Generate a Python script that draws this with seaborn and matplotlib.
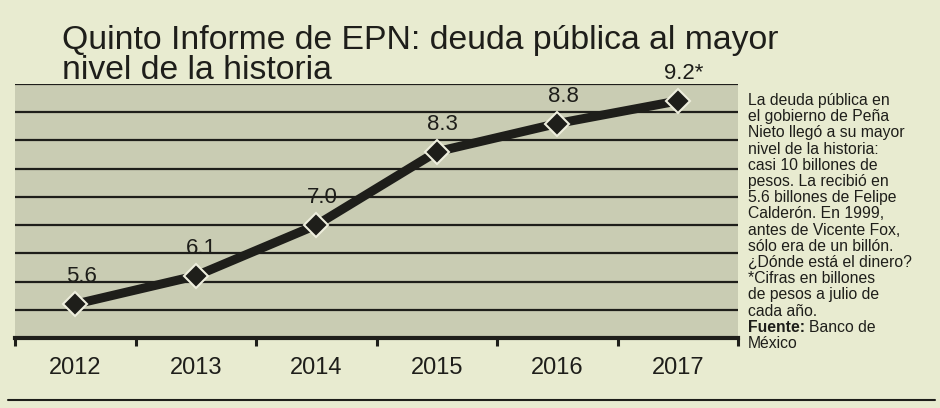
import seaborn as sns
import matplotlib.pyplot as plt
import numpy as np

# Data (billones de pesos, julio de cada año)
years = ['2012', '2013', '2014', '2015', '2016', '2017']
deuda = [5.6, 6.1, 7.0, 8.3, 8.8, 9.2]
labels = ['5.6', '6.1', '7.0', '8.3', '8.8', '9.2*']

title_lines = ['Quinto Informe de EPN: deuda pública al mayor',
               'nivel de la historia']
side_lines = ['La deuda pública en',
              'el gobierno de Peña',
              'Nieto llegó a su mayor',
              'nivel de la historia:',
              'casi 10 billones de',
              'pesos. La recibió en',
              '5.6 billones de Felipe',
              'Calderón. En 1999,',
              'antes de Vicente Fox,',
              'sólo era de un billón.',
              '¿Dónde está el dinero?',
              '*Cifras en billones',
              'de pesos a julio de',
              'cada año.']

paper = '#e8ebd0'
shade = '#c9ccb3'
ink = '#1e1e1a'

sns.set_style('white')
plt.rcParams['font.family'] = ['Liberation Sans', 'DejaVu Sans']

fig = plt.figure(figsize=(9.4, 4.08), dpi=100, facecolor=paper)
ax = fig.add_axes([15/940, 1 - 338/408, (738 - 15)/940, (338 - 84)/408])
ax.set_facecolor(shade)

# horizontal rules every half billón
for v in np.arange(5.5, 9.51, 0.5):
    ax.axhline(v, color=ink, lw=1.6, zorder=1)

sns.pointplot(x=years, y=deuda, ax=ax, color=ink, markers='D',
              markersize=12.5, linewidth=6.5,
              markeredgecolor='#eeeedd', markeredgewidth=1.5, zorder=3)

for i, (v, lab) in enumerate(zip(deuda, labels)):
    ax.text(i + 0.05, v + 0.3, lab, ha='center', va='bottom',
            fontsize=16, color=ink)

ax.set_xlim(-0.5, 5.5)
ax.set_ylim(5.0, 9.5)
ax.set_yticks([])
ax.set_xticks(np.arange(-0.5, 5.6, 1))
ax.set_xticklabels([])
ax.set_xticks(range(len(years)), minor=True)
ax.set_xticklabels(years, minor=True, fontsize=17, color=ink)
ax.tick_params(axis='x', which='major', length=6, width=2.2, color=ink,
               direction='out', bottom=True)
ax.tick_params(axis='x', which='minor', length=0, pad=14)
ax.set_xlabel('')
ax.set_ylabel('')
for s in ['left', 'right', 'top']:
    ax.spines[s].set_visible(False)
ax.spines['bottom'].set_color(ink)
ax.spines['bottom'].set_linewidth(3)

# title
fig.text(62/940, 1 - 49/408, title_lines[0], fontsize=24.3, color=ink,
         ha='left', va='baseline')
fig.text(62/940, 1 - 79/408, title_lines[1], fontsize=24.3, color=ink,
         ha='left', va='baseline')

# side note
y0 = 105
step = 16.2
fs = 11.3
for k, line in enumerate(side_lines):
    fig.text(748/940, 1 - (y0 + k*step)/408, line, fontsize=fs, color=ink,
             ha='left', va='baseline')
k = len(side_lines)
t = fig.text(748/940, 1 - (y0 + k*step)/408, 'Fuente:', fontsize=fs,
             color=ink, ha='left', va='baseline', fontweight='bold')
fig.canvas.draw()
bb = t.get_window_extent()
fig.text((bb.x1 + 4)/940, 1 - (y0 + k*step)/408, 'Banco de', fontsize=fs,
         color=ink, ha='left', va='baseline')
fig.text(748/940, 1 - (y0 + (k + 1)*step)/408, 'México', fontsize=fs,
         color=ink, ha='left', va='baseline')

# bottom rule of the box
fig.add_artist(plt.Line2D([8/940, 935/940], [1 - 400/408, 1 - 400/408],
                          color=ink, lw=1.5))

fig.savefig('out.png', dpi=100, facecolor=paper)
